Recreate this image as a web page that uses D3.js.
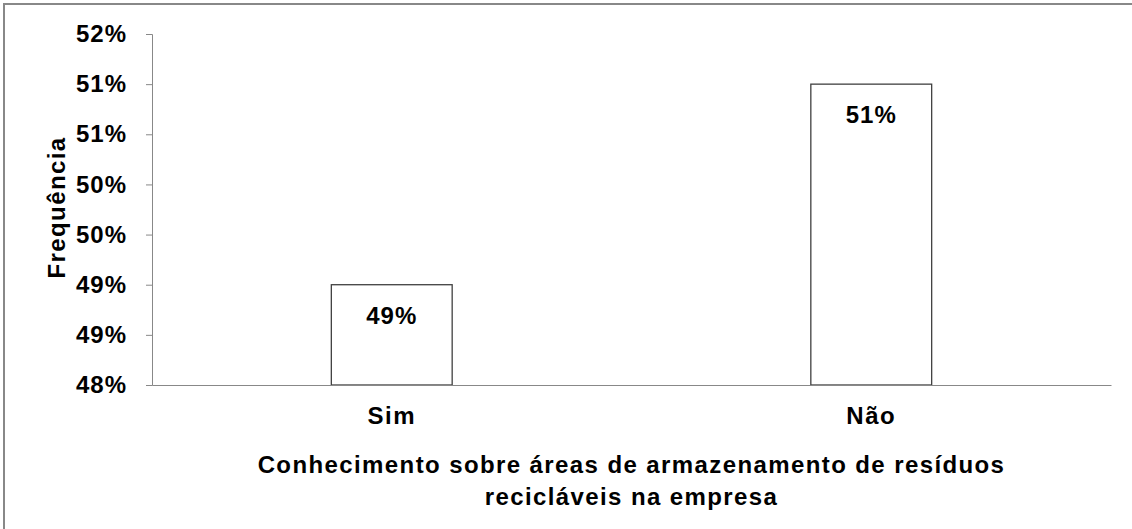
<!DOCTYPE html>
<html>
<head>
<meta charset="utf-8">
<script src="https://cdn.jsdelivr.net/npm/d3@7"></script>
<style>
  body { margin: 0; background: #fff; }
  text { font-family: "Liberation Sans", Arial, sans-serif; font-weight: bold; fill: #000; }
</style>
</head>
<body>
<svg width="1132" height="529"></svg>
<script>
// data
var categories = ["Sim", "Não"];
var values = [0.49, 0.51];
var valueLabels = ["49%", "51%"];
var tickValues = [0.48, 0.485, 0.49, 0.495, 0.50, 0.505, 0.51, 0.515];
var tickLabels = ["48%", "49%", "49%", "50%", "50%", "51%", "51%", "52%"];
var yTitle = "Frequência";
var xTitle = ["Conhecimento sobre áreas de armazenamento de resíduos", "recicláveis na empresa"];

var svg = d3.select("svg"),
    margin = {top: 34, right: 21, bottom: 144, left: 152},
    width = +svg.attr("width") - margin.left - margin.right,
    height = +svg.attr("height") - margin.top - margin.bottom;

// outer frame (only top and left edges are in view)
svg.append("rect")
    .attr("x", 4).attr("y", 4)
    .attr("width", 1140).attr("height", 540)
    .attr("fill", "none")
    .attr("stroke", "#888")
    .attr("stroke-width", 2);

var g = svg.append("g").attr("transform", "translate(" + margin.left + "," + margin.top + ")");

var x = d3.scaleBand()
    .domain(categories)
    .range([0, width])
    .paddingInner(0.748)
    .paddingOuter(0.374);

var y = d3.scaleLinear()
    .domain([0.48, 0.515])
    .range([height, 0]);

// bars
g.selectAll(".bar")
    .data(values)
  .enter().append("rect")
    .attr("class", "bar")
    .attr("x", function(d, i) { return x(categories[i]); })
    .attr("y", function(d) { return y(d); })
    .attr("width", x.bandwidth())
    .attr("height", function(d) { return height - y(d); })
    .attr("fill", "#fff")
    .attr("stroke", "#404040")
    .attr("stroke-width", 1.3);

g.selectAll(".vlabel")
    .data(values)
  .enter().append("text")
    .attr("class", "vlabel")
    .attr("x", function(d, i) { return x(categories[i]) + x.bandwidth() / 2; })
    .attr("y", function(d) { return y(d) + 39; })
    .attr("text-anchor", "middle")
    .style("font-size", "24px")
    .style("letter-spacing", "1px")
    .text(function(d, i) { return valueLabels[i]; });

// y axis
var yAxis = g.append("g")
    .call(d3.axisLeft(y)
      .tickValues(tickValues)
      .tickSize(6)
      .tickPadding(19)
      .tickFormat(function(d, i) { return tickLabels[i]; }));
yAxis.select(".domain").attr("stroke", "#888");
yAxis.selectAll(".tick line").attr("stroke", "#888");
yAxis.selectAll(".tick text")
    .style("font-size", "24px")
    .style("letter-spacing", "1px")
    .style("font-family", "'Liberation Sans', Arial, sans-serif")
    .style("font-weight", "bold")
    .attr("fill", "#000");

// x axis
var xAxis = g.append("g")
    .attr("transform", "translate(0," + height + ")")
    .call(d3.axisBottom(x).tickSize(0).tickPadding(22));
xAxis.select(".domain").attr("stroke", "#888");
xAxis.selectAll(".tick text")
    .style("font-size", "24px")
    .style("letter-spacing", "1.5px")
    .style("font-family", "'Liberation Sans', Arial, sans-serif")
    .style("font-weight", "bold")
    .attr("fill", "#000");

// axis titles
svg.append("text")
    .attr("transform", "translate(65," + (margin.top + height / 2 - 2) + ") rotate(-90)")
    .attr("text-anchor", "middle")
    .style("font-size", "24px")
    .style("letter-spacing", "1.4px")
    .text(yTitle);

svg.selectAll(".xtitle")
    .data(xTitle)
  .enter().append("text")
    .attr("class", "xtitle")
    .attr("x", margin.left + width / 2)
    .attr("y", function(d, i) { return 473 + i * 32; })
    .attr("text-anchor", "middle")
    .style("font-size", "24px")
    .style("letter-spacing", "1.4px")
    .text(function(d) { return d; });
</script>
</body>
</html>
